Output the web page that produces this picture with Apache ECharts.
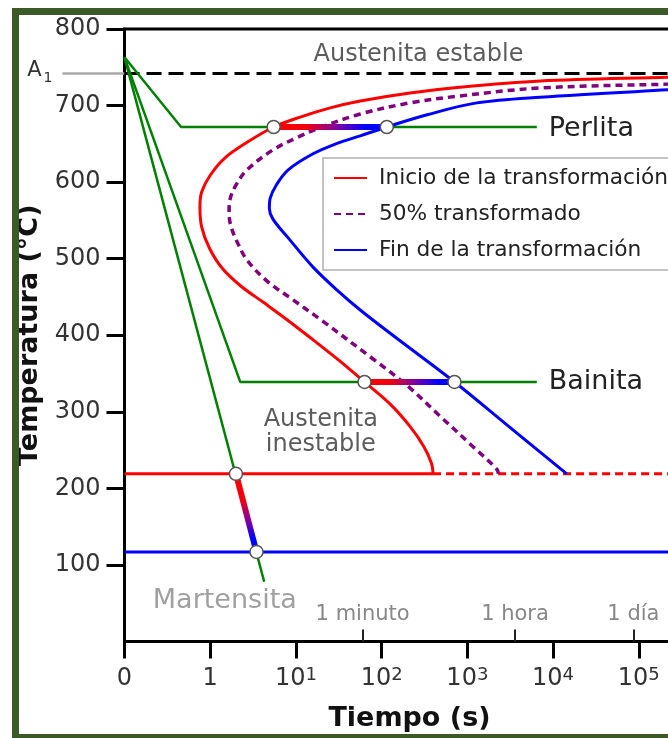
<!DOCTYPE html>
<html>
<head>
<meta charset="utf-8">
<script src="https://cdn.jsdelivr.net/npm/echarts@6/dist/echarts.min.js"></script>
<style>
  html, body { margin: 0; padding: 0; background: #fff; }
  #chart { width: 668px; height: 738px; }
</style>
</head>
<body>
<div id="chart"></div>
<script>
// Diagrama TTT: eje x = log10(tiempo en s); el primer tick (-1) se rotula "0".
const xTicks = [-1, 0, 1, 2, 3, 4, 5];
const xTickBase = ['0', '1', '10', '10', '10', '10', '10'];
const xTickExp = ['', '', '1', '2', '3', '4', '5'];
const xMin = -1;
const xMax = 5.65;

// Marcas de tiempo auxiliares (log10 s)
const timeMarks = [1.778, 3.556, 4.937];
const timeMarkLabels = ['1 minuto', '1 hora', '1 día'];

const yTicks = [100, 200, 300, 400, 500, 600, 700, 800];

// Temperaturas características (°C)
const A1 = 742;
const MS = 219;
const MF = 117;

// Curvas de transformación [log10 t, T]
const inicio = [
  [5.65, 738], [5.34, 737], [3.85, 732], [2.91, 724], [2.33, 716.5], [1.75, 706],
  [1.40, 697], [1.05, 685], [0.74, 672], [0.43, 652], [0.17, 631.5], [0.0, 609],
  [-0.10, 587], [-0.12, 567.5], [-0.10, 541.5], [-0.01, 514], [0.14, 487.5],
  [0.36, 464], [0.62, 443], [0.90, 420], [1.20, 394], [1.51, 366.5], [1.80, 339],
  [2.10, 310], [2.33, 281], [2.49, 255], [2.58, 233], [2.60, 219]
];
const medio = [
  [5.65, 729], [5.34, 728], [3.85, 723], [2.91, 712.5], [2.33, 703.5], [1.75, 689],
  [1.28, 671], [1.01, 658], [0.73, 642], [0.43, 616], [0.30, 596], [0.23, 577],
  [0.22, 561], [0.24, 543], [0.32, 520.5], [0.43, 498], [0.66, 471], [0.95, 447.5],
  [1.28, 421], [1.90, 369], [2.30, 334], [2.68, 294.5], [3.07, 254], [3.35, 224],
  [3.36, 219]
];
const fin = [
  [5.65, 722], [5.34, 720.5], [3.85, 711], [3.11, 703.5], [2.53, 688], [2.06, 672],
  [1.75, 660.5], [1.48, 650.5], [1.20, 637], [0.91, 616], [0.77, 596], [0.70, 579],
  [0.69, 566], [0.73, 552], [0.90, 528.5], [1.20, 489], [1.48, 459], [1.75, 433],
  [2.13, 400], [2.85, 339], [3.45, 284], [4.16, 219]
];

// Líneas horizontales
const a1Line = [[-1, A1], [5.65, A1]];
const msSolid = [[-1, MS], [2.60, MS]];
const msDashed = [[2.60, MS], [5.65, MS]];
const mfLine = [[-1, MF], [5.65, MF]];

// Trayectorias de enfriamiento
const perlitaPath = [[-1, 763], [-0.34, 672], [3.81, 672]];
const bainitaPath = [[-1, 763], [0.35, 339], [3.81, 339]];
const martensitaPath = [[-1, 763], [0.63, 78]];

// Tramos en transformación (inicio → fin)
const perlitaTransf = [[0.74, 672], [2.06, 672]];
const bainitaTransf = [[1.80, 339], [2.85, 339]];
const martensitaTransf = [[0.30, 219], [0.54, 117]];

// Rótulos de regiones
const regionNames = ['Austenita estable', 'Austenita\ninestable', 'Martensita'];
const regionAnchors = [[2.43, 767], [1.29, 273], [0.17, 53]];

const NAME_INICIO = 'Inicio de la transformación';
const NAME_MEDIO = '50% transformado';
const NAME_FIN = 'Fin de la transformación';

const FONT = 'DejaVu Sans';
const RED = '#ff0000';
const BLUE = '#0000ff';
const PURPLE = '#800080';
const GREEN = '#008000';
const FRAME = '#3c5a28';

const regionStyles = [
  { fontSize: 24, color: '#333' },
  { fontSize: 24, color: '#333', lineHeight: 25 },
  { fontSize: 27, color: '#888' }
];

function hGradient() {
  return {
    type: 'linear', x: 0, y: 0, x2: 1, y2: 0,
    colorStops: [
      { offset: 0, color: RED }, { offset: 0.3, color: '#f00010' },
      { offset: 0.55, color: '#8000a0' }, { offset: 0.8, color: BLUE }, { offset: 1, color: BLUE }
    ]
  };
}
function vGradient() {
  return {
    type: 'linear', x: 0, y: 0, x2: 0, y2: 1,
    colorStops: [
      { offset: 0, color: RED }, { offset: 0.35, color: '#f00010' },
      { offset: 0.6, color: '#8000a0' }, { offset: 0.8, color: BLUE }, { offset: 1, color: BLUE }
    ]
  };
}

function lineSeries(name, data, color, width, type, z, extra) {
  return Object.assign({
    name: name, type: 'line', data: data, symbol: 'none', showSymbol: false,
    lineStyle: { color: color, width: width, type: type || 'solid', cap: 'butt' },
    itemStyle: { color: color },
    z: z, silent: true, clip: true
  }, extra || {});
}

const chart = echarts.init(document.getElementById('chart'), null, { renderer: 'canvas' });

const circles = [].concat(perlitaTransf, bainitaTransf, martensitaTransf);

chart.setOption({
  animation: false,
  backgroundColor: '#fff',
  textStyle: { fontFamily: FONT },
  grid: {
    left: 124.5, top: 29, bottom: 96.5, width: 570,
    show: true, borderColor: '#000', borderWidth: 3, backgroundColor: '#fff',
    containLabel: false, outerBoundsMode: 'none'
  },
  legend: {
    data: [NAME_INICIO, NAME_MEDIO, NAME_FIN],
    orient: 'vertical', left: 323, top: 158,
    padding: [8, 12, 8, 10],
    itemWidth: 33, itemHeight: 14, itemGap: 12,
    itemStyle: { opacity: 0 },
    backgroundColor: '#fff', borderColor: '#b0b0b0', borderWidth: 1.5, borderRadius: 0,
    textStyle: { fontFamily: FONT, fontSize: 21.7, color: '#222', lineHeight: 24, padding: [0, 0, 0, 7] }
  },
  xAxis: [{
    type: 'value', min: xMin, max: xMax, interval: 1,
    axisLine: { show: true, onZero: false, lineStyle: { color: '#000', width: 3 } },
    axisTick: { show: true, length: 17, lineStyle: { color: '#000', width: 3 } },
    axisLabel: {
      fontFamily: FONT, fontSize: 24, color: '#333', margin: 25,
      formatter: function (v) {
        const i = xTicks.findIndex(function (t) { return Math.abs(t - v) < 1e-6; });
        if (i < 0) return '';
        return '{m|' + xTickBase[i] + '}' + (xTickExp[i] ? '{s|' + xTickExp[i] + '}' : '');
      },
      rich: {
        m: { fontFamily: FONT, fontSize: 24, color: '#333', lineHeight: 24, padding: [7, 0, 0, 0], verticalAlign: 'bottom' },
        s: { fontFamily: FONT, fontSize: 18, color: '#333', lineHeight: 18, verticalAlign: 'top' }
      }
    },
    splitLine: { show: false },
    name: 'Tiempo (s)', nameLocation: 'middle', nameGap: 64,
    nameTextStyle: { fontFamily: FONT, fontSize: 27, fontWeight: 'bold', color: '#111' }
  }, {
    type: 'value', min: xMin, max: xMax, position: 'bottom',
    axisLine: { show: false, onZero: false },
    axisTick: { show: true, inside: true, length: 12, customValues: timeMarks, lineStyle: { color: '#222', width: 2 } },
    axisLabel: {
      show: true, inside: true, margin: 16, customValues: timeMarks,
      fontFamily: FONT, fontSize: 21, color: '#888',
      formatter: function (v) {
        const i = timeMarks.findIndex(function (t) { return Math.abs(t - v) < 1e-6; });
        return i >= 0 ? timeMarkLabels[i] : '';
      }
    },
    splitLine: { show: false }
  }],
  yAxis: [{
    type: 'value', min: 0, max: 800, interval: 100, position: 'left',
    axisLine: { show: true, onZero: false, lineStyle: { color: '#000', width: 3 } },
    axisTick: { show: true, length: 18, customValues: yTicks, lineStyle: { color: '#000', width: 3 } },
    axisLabel: { customValues: yTicks, fontFamily: FONT, fontSize: 24, color: '#333', margin: 24 },
    splitLine: { show: false },
    name: 'Temperatura (°C)', nameLocation: 'middle', nameGap: 80, nameRotate: 90,
    nameTextStyle: { fontFamily: FONT, fontSize: 27, fontWeight: 'bold', color: '#111' }
  }, {
    type: 'value', min: 0, max: 800, position: 'left',
    axisLine: { show: false, onZero: false },
    axisTick: { show: true, length: 62, customValues: [A1], lineStyle: { color: '#aaa', width: 2.5 } },
    axisLabel: {
      show: true, customValues: [A1], margin: 72,
      formatter: function () { return '{a|A}{s|1}'; },
      rich: {
        a: { fontFamily: FONT, fontSize: 21, color: '#333', padding: [0, 0, 6, 0] },
        s: { fontFamily: FONT, fontSize: 14, color: '#333', padding: [10, 0, 0, 2] }
      }
    },
    splitLine: { show: false }
  }],
  series: [
    lineSeries('a1', a1Line, '#000', 3, [15, 7], 2),
    lineSeries('ms', msSolid, RED, 3, 'solid', 2),
    lineSeries('msd', msDashed, RED, 3, [8, 5], 2),
    lineSeries('mf', mfLine, BLUE, 3, 'solid', 2),
    lineSeries('perlita', perlitaPath, GREEN, 2.5, 'solid', 3, {
      endLabel: { show: true, formatter: 'Perlita', fontFamily: FONT, fontSize: 27, color: '#222', distance: 12, offset: [0, 2] }
    }),
    lineSeries('bainita', bainitaPath, GREEN, 2.5, 'solid', 3, {
      endLabel: { show: true, formatter: 'Bainita', fontFamily: FONT, fontSize: 27, color: '#222', distance: 12 }
    }),
    lineSeries('martensita', martensitaPath, GREEN, 2.5, 'solid', 3),
    lineSeries(NAME_INICIO, inicio, RED, 3, 'solid', 4, { smooth: 0.35 }),
    lineSeries(NAME_MEDIO, medio, PURPLE, 3.5, [7, 5], 4, { smooth: 0.35 }),
    lineSeries(NAME_FIN, fin, BLUE, 3, 'solid', 4, { smooth: 0.35 }),
    lineSeries('tp', perlitaTransf, hGradient(), 6, 'solid', 5),
    lineSeries('tb', bainitaTransf, hGradient(), 6, 'solid', 5),
    lineSeries('tm', martensitaTransf, vGradient(), 6, 'solid', 5),
    {
      name: 'puntos', type: 'scatter', data: circles, symbol: 'circle', symbolSize: 13,
      itemStyle: { color: '#fff', borderColor: '#555', borderWidth: 1.5, opacity: 1 },
      z: 6, silent: true
    },
    {
      name: 'rotulos', type: 'scatter', symbolSize: 1, z: 7, silent: true,
      itemStyle: { color: 'rgba(0,0,0,0)' },
      data: regionNames.map(function (n, i) {
        return {
          name: n, value: regionAnchors[i],
          label: Object.assign({ show: true, position: 'inside', formatter: '{b}', fontFamily: FONT, align: 'center' }, regionStyles[i])
        };
      })
    }
  ],
  graphic: [
    { type: 'rect', shape: { x: 12, y: 8, width: 7, height: 740 }, style: { fill: FRAME }, z: 100 },
    { type: 'rect', shape: { x: 12, y: 8, width: 680, height: 7 }, style: { fill: FRAME }, z: 100 },
    { type: 'rect', shape: { x: 12, y: 734, width: 680, height: 10 }, style: { fill: FRAME }, z: 100 }
  ]
});
</script>
</body>
</html>
